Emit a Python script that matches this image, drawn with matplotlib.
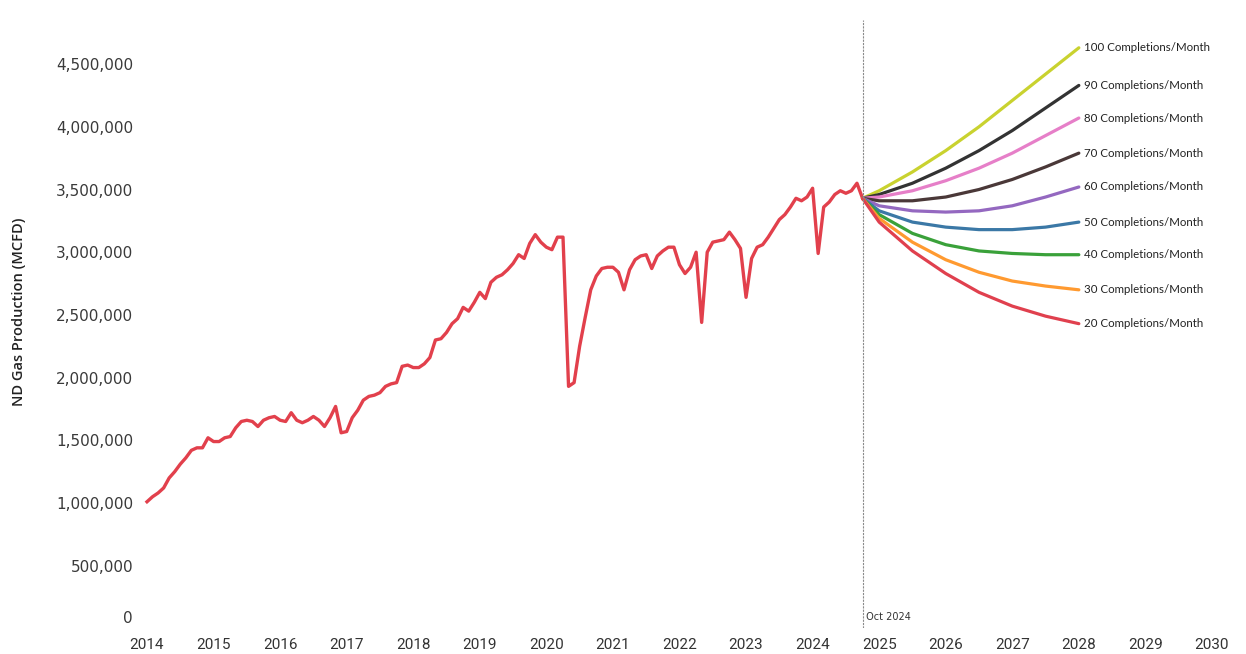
import numpy as np
import matplotlib
matplotlib.use("Agg")
import matplotlib.pyplot as plt
from matplotlib.transforms import ScaledTranslation

# monthly ND gas production, Jan 2014 .. Oct 2024 (million MCFD)
hist_2014 = [1.01, 1.05, 1.08, 1.12, 1.20, 1.25, 1.31, 1.36, 1.42, 1.44, 1.44, 1.52]
hist_2015 = [1.49, 1.49, 1.52, 1.53, 1.60, 1.65, 1.66, 1.65, 1.61, 1.66, 1.68, 1.69]
hist_2016 = [1.66, 1.65, 1.72, 1.66, 1.64, 1.66, 1.69, 1.66, 1.61, 1.68, 1.77, 1.56]
hist_2017 = [1.57, 1.68, 1.74, 1.82, 1.85, 1.86, 1.88, 1.93, 1.95, 1.96, 2.09, 2.10]
hist_2018 = [2.08, 2.08, 2.11, 2.16, 2.30, 2.31, 2.36, 2.43, 2.47, 2.56, 2.53, 2.60]
hist_2019 = [2.68, 2.63, 2.76, 2.80, 2.82, 2.86, 2.91, 2.98, 2.95, 3.07, 3.14, 3.08]
hist_2020 = [3.04, 3.02, 3.12, 3.12, 1.93, 1.96, 2.25, 2.48, 2.70, 2.81, 2.87, 2.88]
hist_2021 = [2.88, 2.84, 2.70, 2.86, 2.94, 2.97, 2.98, 2.87, 2.97, 3.01, 3.04, 3.04]
hist_2022 = [2.90, 2.83, 2.88, 3.00, 2.44, 3.00, 3.08, 3.09, 3.10, 3.16, 3.10, 3.03]
hist_2023 = [2.64, 2.95, 3.04, 3.06, 3.12, 3.19, 3.26, 3.30, 3.36, 3.43, 3.41, 3.44]
hist_2024 = [3.51, 2.99, 3.36, 3.40, 3.46, 3.49, 3.47, 3.49, 3.55, 3.43]

# forecast scenarios (million MCFD) at these decimal years
fc_years = [2024.75, 2025.0, 2025.5, 2026.0, 2026.5, 2027.0, 2027.5, 2028.0]
fc_100 = [3.43, 3.49, 3.64, 3.81, 4.00, 4.21, 4.42, 4.63]
fc_90 = [3.43, 3.46, 3.55, 3.67, 3.81, 3.97, 4.15, 4.33]
fc_80 = [3.43, 3.44, 3.49, 3.57, 3.67, 3.79, 3.93, 4.07]
fc_70 = [3.43, 3.41, 3.41, 3.44, 3.50, 3.58, 3.68, 3.79]
fc_60 = [3.43, 3.37, 3.33, 3.32, 3.33, 3.37, 3.44, 3.52]
fc_50 = [3.43, 3.33, 3.24, 3.20, 3.18, 3.18, 3.20, 3.24]
fc_40 = [3.43, 3.30, 3.15, 3.06, 3.01, 2.99, 2.98, 2.98]
fc_30 = [3.43, 3.27, 3.08, 2.94, 2.84, 2.77, 2.73, 2.70]
fc_20 = [3.43, 3.24, 3.01, 2.83, 2.68, 2.57, 2.49, 2.43]

scenario_labels = ["100 Completions/Month", "90 Completions/Month", "80 Completions/Month",
                   "70 Completions/Month", "60 Completions/Month", "50 Completions/Month",
                   "40 Completions/Month", "30 Completions/Month", "20 Completions/Month"]
scenario_colors = ["#c9d22f", "#333333", "#e67fc8", "#4a3838", "#9468c0",
                   "#3b78a6", "#3aa13a", "#ff9a30", "#e0404e"]

year_ticks = list(range(2014, 2031))
y_ticks = [0, 500000, 1000000, 1500000, 2000000, 2500000, 3000000, 3500000, 4000000, 4500000]

hist = (hist_2014 + hist_2015 + hist_2016 + hist_2017 + hist_2018 + hist_2019
        + hist_2020 + hist_2021 + hist_2022 + hist_2023 + hist_2024)
hist_x = 2014 + np.arange(len(hist)) / 12.0
hist_y = np.array(hist) * 1e6

fig = plt.figure(figsize=(12.46, 6.54), dpi=100)
ax = fig.add_axes([140 / 1246, (654 - 628.4) / 654, 1100 / 1246, 608.4 / 654])

ax.plot(hist_x, hist_y, color="#e2404c", lw=2.4, solid_joinstyle="round")

forecasts = [fc_100, fc_90, fc_80, fc_70, fc_60, fc_50, fc_40, fc_30, fc_20]
for vals, lab, col in zip(forecasts, scenario_labels, scenario_colors):
    yv = np.array(vals) * 1e6
    ax.plot(fc_years, yv, color=col, lw=2.3, solid_capstyle="round")
    ax.annotate(lab, (fc_years[-1], yv[-1]), xytext=(4, 0), textcoords="offset points",
                va="center", ha="left", fontsize=8.3, family="Lato", color="#222222")

# forecast start marker
ax.axvline(2024.75, color="#8a8a8a", lw=0.8, ls=(0, (2, 1)))
ax.text(2024.75, 0, " Oct 2024", transform=ax.transData + ScaledTranslation(0, 6 / 100, fig.dpi_scale_trans),
        fontsize=7, family="DejaVu Sans", color="#333333", va="bottom", ha="left")

ax.set_xlim(2014 + (140 - 147) / 66.56, 2014 + (1240 - 147) / 66.56)
ax.set_ylim(0, 608.4 / 125.4 * 1e6)

ax.set_xticks(year_ticks)
ax.set_xticklabels([str(y) for y in year_ticks], family="Roboto", fontsize=11, color="#333333")
ax.set_yticks(y_ticks)
ax.set_yticklabels([f"{v:,}" for v in y_ticks], family="DejaVu Sans", fontsize=11, color="#3a3a3a")
ax.tick_params(axis="both", length=0)
ax.tick_params(axis="x", pad=7)
ax.tick_params(axis="y", pad=5)

# Tableau lifts the zero label off the axis line
zero_lab = ax.get_yticklabels()[0]
zero_lab.set_transform(zero_lab.get_transform() + ScaledTranslation(0, 11 / 100, fig.dpi_scale_trans))

for s in ax.spines.values():
    s.set_visible(False)

ax.set_ylabel("ND Gas Production (MCFD)", family="Open Sans", fontsize=10.5,
              fontweight="semibold", color="#222222")
ax.yaxis.set_label_coords((26 - 140) / 1100, (628.4 - 312) / 608.4)

fig.savefig("out.png", dpi=100, facecolor="white")
